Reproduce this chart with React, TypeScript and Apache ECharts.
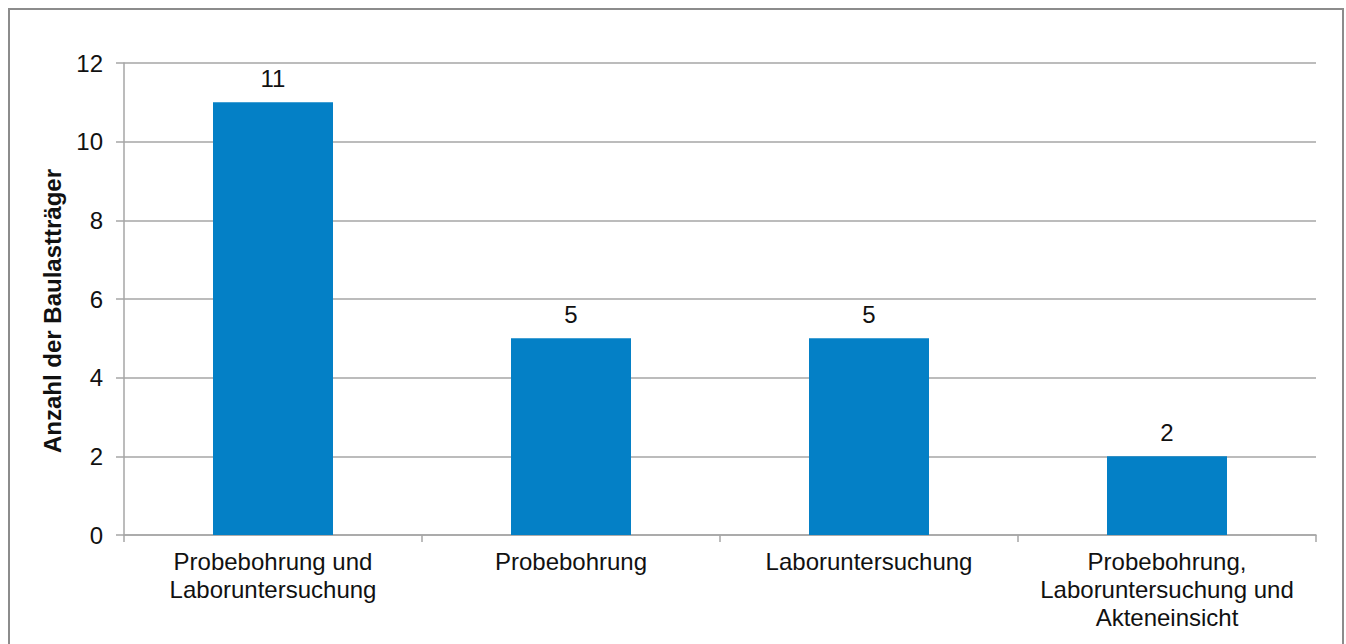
import React, { useEffect, useRef } from "react";
import * as echarts from "echarts";

const categories = [
  "Probebohrung und\nLaboruntersuchung",
  "Probebohrung",
  "Laboruntersuchung",
  "Probebohrung,\nLaboruntersuchung und\nAkteneinsicht",
];
const values = [11, 5, 5, 2];
const yAxisName = "Anzahl der Baulastträger";

export default function App() {
  const ref = useRef<HTMLDivElement>(null);
  useEffect(() => {
    document.body.style.margin = "0";
    document.body.style.overflow = "hidden";
    if (!ref.current) return;
    const chart = echarts.init(ref.current, null, { renderer: "svg" });
    const font = "'Liberation Sans', Arial, sans-serif";
    chart.setOption({
      animation: false,
      backgroundColor: "#ffffff",
      textStyle: { fontFamily: font },
      graphic: [
        {
          type: "rect",
          shape: { x: 9, y: 9, width: 1334, height: 700 },
          style: { fill: "none", stroke: "#8c8c8c", lineWidth: 2 },
          silent: true,
        },
        {
          type: "text",
          x: 52,
          y: 311,
          rotation: Math.PI / 2,
          silent: true,
          style: {
            text: yAxisName,
            fill: "#111111",
            font: `bold 24px ${font}`,
            align: "center",
            verticalAlign: "middle",
          },
        },
      ],
      grid: { left: 124, right: 30, top: 63, bottom: 109 },
      xAxis: {
        type: "category",
        data: categories,
        axisLine: { lineStyle: { color: "#a6a6a6", width: 1.5 } },
        axisTick: { show: true, length: 7, lineStyle: { color: "#a6a6a6", width: 1.5 } },
        axisLabel: {
          color: "#111111",
          fontSize: 24,
          fontFamily: font,
          lineHeight: 28,
          margin: 12,
          interval: 0,
          align: "center",
        },
      },
      yAxis: {
        type: "value",
        min: 0,
        max: 12,
        interval: 2,
        axisLine: { show: true, lineStyle: { color: "#a6a6a6", width: 1.5 } },
        axisTick: { show: true, length: 8, lineStyle: { color: "#a6a6a6", width: 1.5 } },
        axisLabel: { color: "#111111", fontSize: 24, fontFamily: font, margin: 21 },
        splitLine: { show: true, lineStyle: { color: "#a6a6a6", width: 1.5 } },
      },
      series: [
        {
          type: "bar",
          data: values,
          barWidth: 120,
          itemStyle: { color: "#0480c6" },
          label: {
            show: true,
            position: "top",
            distance: 12,
            color: "#111111",
            fontSize: 24,
            fontFamily: font,
          },
        },
      ],
    });
    return () => chart.dispose();
  }, []);
  return <div ref={ref} style={{ width: 1346, height: 644 }} />;
}
